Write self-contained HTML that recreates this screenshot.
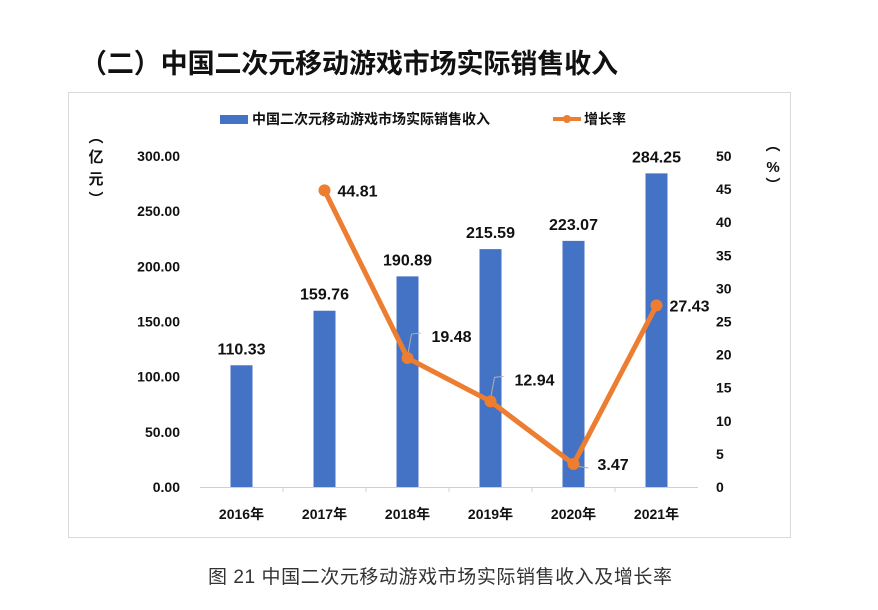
<!DOCTYPE html>
<html><head><meta charset="utf-8"><style>
body{margin:0;background:#fff;width:878px;height:605px;overflow:hidden;font-family:"Liberation Sans","Noto Sans CJK SC",sans-serif}
svg text{font-family:"Liberation Sans","Noto Sans CJK SC",sans-serif}
</style></head><body>
<svg width="878" height="605">
<text x="80" y="73" font-size="27" font-weight="bold" fill="#111" textLength="538">（二）中国二次元移动游戏市场实际销售收入</text>
<rect x="68.5" y="92.5" width="722" height="445" fill="none" stroke="#d9d9d9"/>
<g>
<rect x="220" y="115" width="28" height="9" fill="#4472c4"/>
<text x="252" y="124" font-size="14" font-weight="bold" fill="#111">中国二次元移动游戏市场实际销售收入</text>
<line x1="553" y1="119" x2="581" y2="119" stroke="#ed7d31" stroke-width="4"/>
<circle cx="567" cy="119" r="4" fill="#ed7d31"/>
<text x="584" y="124" font-size="14" font-weight="bold" fill="#111">增长率</text>
</g>
<text x="96" y="142" font-size="15" font-weight="bold" fill="#111" text-anchor="middle"><tspan x="96" dy="0">︵</tspan><tspan x="96" dy="20">亿</tspan><tspan x="96" dy="22">元</tspan><tspan x="96" dy="20">︶</tspan></text>
<text x="773" y="150" font-size="15" font-weight="bold" fill="#111" text-anchor="middle"><tspan x="773" dy="0">︵</tspan><tspan x="773" dy="22">%</tspan><tspan x="773" dy="18">︶</tspan></text>
<g id="axes"></g><g id="bars"></g><g id="line"></g>
<text x="440" y="583" font-size="19" fill="#333" text-anchor="middle" textLength="464">图 21 中国二次元移动游戏市场实际销售收入及增长率</text>
</svg>
<script>
const categories=["2016年","2017年","2018年","2019年","2020年","2021年"];
const revenue=[110.33,159.76,190.89,215.59,223.07,284.25];
const growth=[null,44.81,19.48,12.94,3.47,27.43];
const leftTicks=["0.00","50.00","100.00","150.00","200.00","250.00","300.00"];
const rightTicks=["0","5","10","15","20","25","30","35","40","45","50"];
const NS="http://www.w3.org/2000/svg";
const x0=200,x1=698,yb=487,yt=156;
const bw=(x1-x0)/categories.length;
const xc=i=>x0+bw*(i+0.5);
const yL=v=>yb-(v/300)*(yb-yt);
const yR=v=>yb-(v/50)*(yb-yt);
function mk(tag,attrs,parent,txt){const e=document.createElementNS(NS,tag);for(const k in attrs)e.setAttribute(k,attrs[k]);if(txt!=null)e.textContent=txt;parent.appendChild(e);return e;}
const ax=document.getElementById('axes'),bg=document.getElementById('bars'),lg=document.getElementById('line');
let a=mk('line',{x1:x0,x2:x1,y1:yb+0.5,y2:yb+0.5,stroke:'#d0d0d0'},ax);


leftTicks.forEach(t=>{const e=mk('text',{x:180,y:yL(+t)+5,'font-size':14,'font-weight':'bold','text-anchor':'end',fill:'#111'},ax,t);

});
rightTicks.forEach(t=>{const e=mk('text',{x:716,y:yR(+t)+5,'font-size':14,'font-weight':'bold','text-anchor':'start',fill:'#111'},ax,t);

});
categories.forEach((c,i)=>{
 if(i>0){mk('line',{x1:x0+bw*i,x2:x0+bw*i,y1:yb,y2:yb+5,stroke:'#d0d0d0'},ax);}
 const e=mk('text',{x:xc(i),y:yb+32,'font-size':14,'font-weight':'bold','text-anchor':'middle',fill:'#111'},ax,c);
 
 
 const b=mk('rect',{x:xc(i)-11,y:yL(revenue[i]),width:22,height:yb-yL(revenue[i]),fill:'#4472c4'},bg);
 
 
 const l=mk('text',{x:xc(i),y:yL(revenue[i])-11,'font-size':16,'font-weight':'bold','text-anchor':'middle',fill:'#111'},bg,revenue[i].toFixed(2));
 
 
});
let pts=[];growth.forEach((g,i)=>{if(g!=null)pts.push([xc(i),yR(g)]);});
const pl=mk('polyline',{points:pts.map(p=>p.join(',')).join(' '),fill:'none',stroke:'#ed7d31','stroke-width':5,'stroke-linejoin':'round'},lg);


growth.forEach((g,i)=>{if(g==null)return;
 const px=xc(i),py=yR(g);
 if(i==2||i==3){mk('polyline',{points:`${px},${py-2} ${px+4},${py-24} ${px+13},${py-25}`,fill:'none',stroke:'#b0b0b0','stroke-width':1},lg);}
 if(i==4){mk('line',{x1:px+2,y1:py+2,x2:px+15,y2:py+4,stroke:'#b0b0b0','stroke-width':1},lg);}
 const c=mk('circle',{cx:px,cy:py,r:6,fill:'#ed7d31'},lg);
 
 
 const t=mk('text',{x:px+13,y:py+6,'font-size':16,'font-weight':'bold',fill:'#111'},lg,g.toFixed(2));
 if(i>=2&&i<=3){t.setAttribute('x',px+24);t.setAttribute('y',py-16);}
 if(i==4){t.setAttribute('x',px+24);t.setAttribute('y',py+6);}
 
 
});
</script>
</body></html>
